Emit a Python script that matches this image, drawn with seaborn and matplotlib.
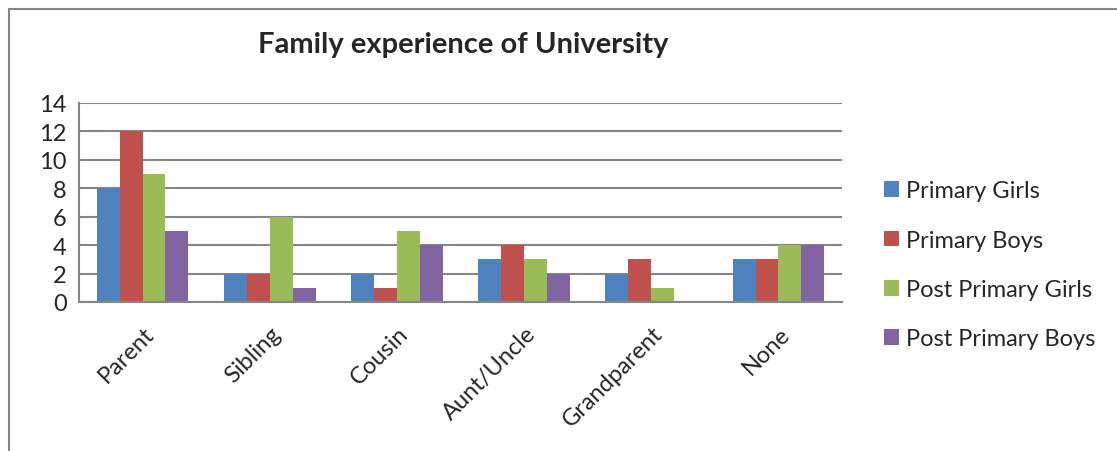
import matplotlib
matplotlib.use("Agg")
import matplotlib.pyplot as plt
from matplotlib.patches import Rectangle, Patch
import matplotlib.transforms as mtransforms
import seaborn as sns
import pandas as pd
import numpy as np

categories = ["Parent", "Sibling", "Cousin", "Aunt/Uncle", "Grandparent", "None"]
series_names = ["Primary Girls", "Primary Boys", "Post Primary Girls", "Post Primary Boys"]
primary_girls = [8, 2, 2, 3, 2, 3]
primary_boys = [12, 2, 1, 4, 3, 3]
post_primary_girls = [9, 6, 5, 3, 1, 4]
post_primary_boys = [5, 1, 4, 2, 0, 4]
y_ticks = [0, 2, 4, 6, 8, 10, 12, 14]
colors = ["#4F81BD", "#C0504D", "#9BBB59", "#8064A2"]
title = "Family experience of University"

rows = []
for name, vals in zip(series_names, [primary_girls, primary_boys, post_primary_girls, post_primary_boys]):
    for c, v in zip(categories, vals):
        rows.append({"category": c, "series": name, "value": v})
df = pd.DataFrame(rows)

sns.set_style("white")
plt.rcParams["font.family"] = ["Lato", "DejaVu Sans"]

W, H = 1117, 452
fig = plt.figure(figsize=(W / 100, H / 100), dpi=100)
ax = fig.add_axes([79 / W, 1 - 303 / H, (842 - 79) / W, (303 - 104) / H])

sns.barplot(data=df, x="category", y="value", hue="series", order=categories,
            hue_order=series_names, palette=colors, width=0.72, ax=ax,
            saturation=1, edgecolor="none", linewidth=0, legend=False)

ax.set_xlim(-0.5, len(categories) - 0.5)
ax.set_ylim(0, 14)
ax.set_yticks(y_ticks)
ax.yaxis.grid(True, color="#868686", linewidth=1.5)
ax.set_axisbelow(True)
ax.set_xlabel("")
ax.set_ylabel("")

for s in ["top", "right"]:
    ax.spines[s].set_visible(False)
for s in ["left", "bottom"]:
    ax.spines[s].set_color("#868686")
    ax.spines[s].set_linewidth(1.5)

ax.set_xticks(np.arange(len(categories)))
ax.set_xticklabels(categories, rotation=45, ha="right", va="center",
                   rotation_mode="anchor", fontsize=17)
ax.set_xticks(np.arange(-0.5, len(categories)), minor=True)
ax.tick_params(axis="x", which="major", length=0, pad=20)
ax.tick_params(axis="x", which="minor", length=7, width=1.5, color="#868686", direction="out")
ax.tick_params(axis="y", length=6, width=1.5, color="#868686", direction="out",
               labelsize=17, pad=3)

offset = mtransforms.ScaledTranslation(8 / 100, 0, fig.dpi_scale_trans)
for lbl in ax.get_xticklabels():
    lbl.set_transform(lbl.get_transform() + offset)

fig.text(463 / W, 1 - 45 / H, title, ha="center", va="center",
         fontsize=21, fontweight="bold")

handles = [Patch(facecolor=c, edgecolor="none") for c in colors]
fig.legend(handles, series_names, loc="center left",
           bbox_to_anchor=(872 / W, 1 - 266 / H), frameon=False, fontsize=17,
           handlelength=0.65, handleheight=0.65, handletextpad=0.3,
           labelspacing=1.2, borderpad=0)

fig.add_artist(Rectangle((9 / W, -0.1), 1.2, 1 - 10 / H + 0.1,
                         transform=fig.transFigure, fill=False,
                         edgecolor="#868686", linewidth=1.5))

fig.savefig("out.png", dpi=100)
